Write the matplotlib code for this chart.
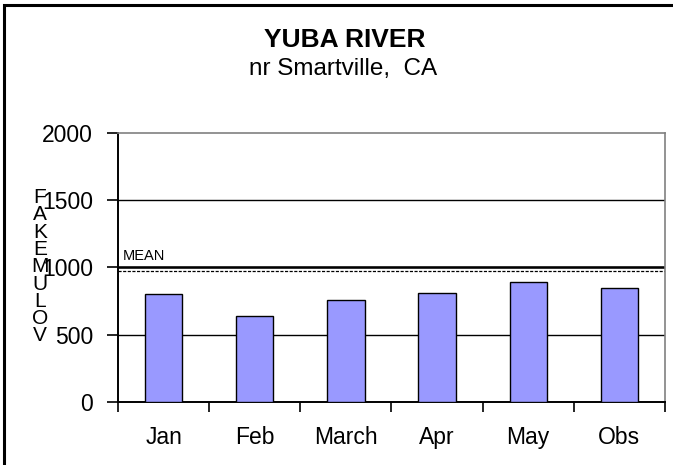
import matplotlib
matplotlib.use('Agg')
import matplotlib.pyplot as plt
from matplotlib.patches import Rectangle
import numpy as np

plt.rcParams['font.family'] = ['Liberation Sans', 'DejaVu Sans']

months = ['Jan', 'Feb', 'March', 'Apr', 'May', 'Obs']
volumes = [800, 640, 760, 810, 890, 845]
mean_volume = 970
y_ticks = [0, 500, 1000, 1500, 2000]
y_label = 'FAKEMULOV'
title = 'YUBA RIVER'
subtitle = 'nr Smartville,  CA'

bar_color = '#9999FF'

fig = plt.figure(figsize=(6.73, 4.65), dpi=100)
ax = fig.add_axes([118 / 673, 1 - 402 / 465, (665 - 118) / 673, (402 - 132.7) / 465])

x = np.arange(len(months))
ax.bar(x, volumes, width=0.41, color=bar_color, edgecolor='black', linewidth=1.0, zorder=3)

# gridlines
for v in y_ticks[1:-1]:
    ax.axhline(v, color='black', linewidth=1.0, zorder=1)
ax.axhline(1000, color='black', linewidth=1.8, zorder=1)
ax.axhline(mean_volume, color='black', linewidth=0.9, linestyle=(0, (2.5, 1.2)), zorder=2)
ax.text(0.009, 1057, 'MEAN', transform=ax.get_yaxis_transform(), fontsize=10.5,
        ha='left', va='baseline')

ax.set_xlim(-0.5, len(months) - 0.5)
ax.set_ylim(0, 2000)

ax.set_yticks(y_ticks)
ax.set_yticklabels([str(v) for v in y_ticks], fontsize=16.5)
ax.tick_params(axis='y', direction='out', length=8, width=1.2, pad=10)

ax.set_xticks(np.arange(len(months) + 1) - 0.5)
ax.set_xticklabels([])
ax.set_xticks(x, minor=True)
ax.set_xticklabels(months, minor=True, fontsize=16.5)
ax.tick_params(axis='x', which='major', direction='out', length=7, width=1.2)
ax.tick_params(axis='x', which='minor', length=0, pad=17)

for side in ['top', 'right']:
    ax.spines[side].set_color('#808080')
    ax.spines[side].set_linewidth(1.2)
for side in ['left', 'bottom']:
    ax.spines[side].set_color('black')
    ax.spines[side].set_linewidth(1.4)

# stacked y label letters
for i, ch in enumerate(y_label):
    fig.text(40 / 673, 1 - (197.5 + i * 17.3) / 465, ch, fontsize=15,
             ha='center', va='center')

fig.text(344.5 / 673, 1 - 47 / 465, title, fontsize=19, fontweight='bold',
         ha='center', va='baseline')
fig.text(343 / 673, 1 - 75 / 465, subtitle, fontsize=17.5, ha='center', va='baseline')

# outer chart border (cut off at right/bottom)
fig.patches.append(Rectangle((4 / 673, -0.1), 1.2, 1 - 5 / 465 + 0.1,
                             transform=fig.transFigure, fill=False,
                             edgecolor='black', linewidth=2.2))

fig.savefig('out.png', dpi=100)
